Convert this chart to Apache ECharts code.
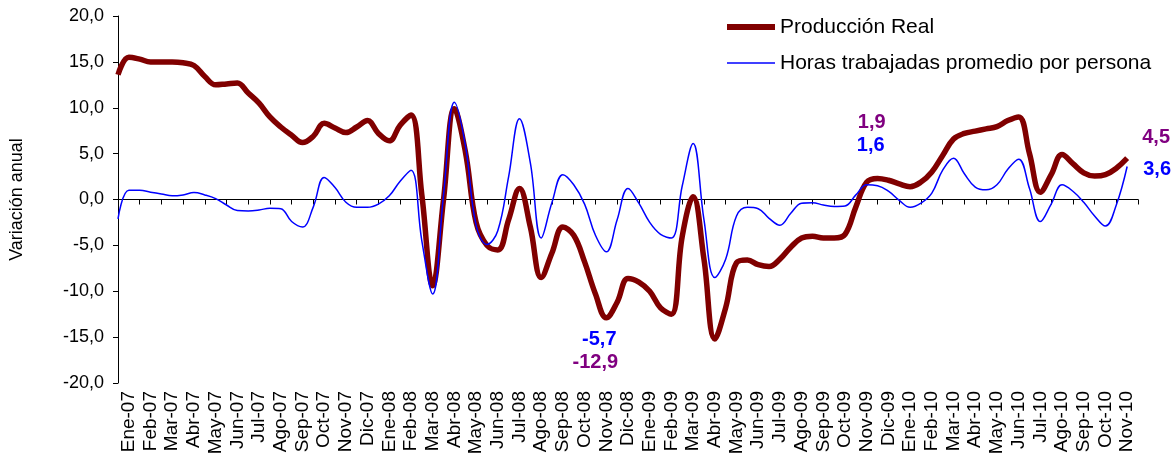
<!DOCTYPE html>
<html><head><meta charset="utf-8">
<script src="https://cdn.jsdelivr.net/npm/echarts@6/dist/echarts.min.js"></script>
<style>html,body{margin:0;padding:0;background:#fff}#c{width:1174px;height:459px}</style>
</head><body><div id="c"></div>
<script>
// Month tick labels (categories)
const months = [
  'Ene-07','Feb-07','Mar-07','Abr-07','May-07','Jun-07','Jul-07','Ago-07','Sep-07','Oct-07','Nov-07','Dic-07',
  'Ene-08','Feb-08','Mar-08','Abr-08','May-08','Jun-08','Jul-08','Ago-08','Sep-08','Oct-08','Nov-08','Dic-08',
  'Ene-09','Feb-09','Mar-09','Abr-09','May-09','Jun-09','Jul-09','Ago-09','Sep-09','Oct-09','Nov-09','Dic-09',
  'Ene-10','Feb-10','Mar-10','Abr-10','May-10','Jun-10','Jul-10','Ago-10','Sep-10','Oct-10','Nov-10'
];
// Series sampled every half month, first sample half a month before Ene-07
const sampleStart = -0.5;
const sampleStep = 0.5;
const produccionReal = [
  13.6, 15.5, 15.3, 15.0, 15.0, 15.0, 14.9, 14.6, 13.4, 12.5,
  12.6, 12.7, 11.6, 10.5, 9.0, 7.9, 7.0, 6.2, 6.9, 8.3,
  7.8, 7.3, 7.9, 8.6, 7.2, 6.4, 8.1, 9.2, 0.5, -9.4,
  0.0, 9.9, 5.3, -2.5, -5.0, -5.5, -2.2, 1.2, -3.0, -8.5,
  -5.8, -3.0, -3.9, -6.8, -10.3, -12.9, -11.2, -8.6, -9.0, -10.0,
  -11.8, -12.5, -4.0, 0.3, -6.5, -15.2, -11.8, -6.9, -6.6, -7.1,
  -7.3, -6.5, -5.2, -4.2, -4.0, -4.2, -4.2, -3.8, -0.8, 1.9,
  2.3, 2.1, 1.7, 1.4, 1.9, 3.0, 4.8, 6.6, 7.2, 7.45,
  7.7, 7.95, 8.6, 9.0, 5.0, 0.8, 2.7, 4.9, 3.9, 2.9,
  2.55, 2.7, 3.4, 4.5
];
const horasTrabajadas = [
  -2.1, 1.0, 1.0, 0.8, 0.6, 0.4, 0.5, 0.75, 0.5, 0.1,
  -0.6, -1.2, -1.25, -1.15, -0.95, -1.0, -2.4, -3.0, -0.8, 2.4,
  1.3, -0.3, -0.85, -0.85, -0.5, 0.4, 2.0, 3.2, -4.5, -10.3,
  0.5, 10.6, 6.0, -2.8, -4.9, -3.4, 2.5, 8.8, 4.0, -4.2,
  -0.3, 2.7, 1.6, -0.5, -3.9, -5.7, -2.2, 1.2, -0.4, -2.5,
  -3.8, -4.2, 1.5, 6.1, -2.2, -8.5, -6.5, -1.8, -0.85, -1.0,
  -2.05, -2.8, -1.5, -0.4, -0.35, -0.6, -0.75, -0.7, 0.5, 1.6,
  1.5, 0.9, -0.1, -0.85, -0.4, 0.7, 3.2, 4.5, 2.8, 1.35,
  1.05, 1.6, 3.3, 4.4, 1.2, -2.4, -0.5, 1.6, 0.9, -0.3,
  -1.8, -2.9, -0.6, 3.6
];
const yMin = -20, yMax = 20, yInterval = 5;
// Annotated months (Nov-08, Nov-09, Nov-10)
const annotMonths = ['Nov-08', 'Nov-09', 'Nov-10'];

// ---- styles ----
const FONT = '"Liberation Sans", Arial, sans-serif';
const prodColor = '#800000', horasColor = '#0000FF', prodLabelColor = '#800080';
const prodWidth = 5.5, horasWidth = 1.5;
const annotOffsetsProd = [[-11, 45], [5, -60], [29, -21]];
const annotOffsetsHoras = [[-7, 88], [4, -39], [30, 3]];

function pairs(arr) { return arr.map((v, i) => [sampleStart + i * sampleStep, v]); }
function fmt(v) { return v.toFixed(1).replace('.', ','); }
function annotData(arr, offsets, color) {
  return annotMonths.map((m, k) => {
    const t = months.indexOf(m);
    const v = arr[Math.round((t - sampleStart) / sampleStep)];
    return {
      value: [t, v],
      label: { show: true, position: 'inside', offset: offsets[k], formatter: fmt(v),
               color: color, fontWeight: 'bold', fontSize: 20, fontFamily: FONT,
               textBorderWidth: 0, textBorderColor: 'transparent', opacity: 1 }
    };
  });
}

const chart = echarts.init(document.getElementById('c'), null, { renderer: 'canvas' });
chart.setOption({
  animation: false,
  backgroundColor: '#ffffff',
  grid: { left: 116, right: 36, top: 16, bottom: 76, containLabel: false },
  legend: {
    data: [
      { name: 'Producción Real', lineStyle: { width: 6, color: prodColor } },
      { name: 'Horas trabajadas promedio por persona', lineStyle: { width: 1.5, color: horasColor } }
    ],
    orient: 'vertical', left: 724, top: 16, padding: 0, itemWidth: 48, itemHeight: 14, itemGap: 14,
    itemStyle: { opacity: 0 },
    textStyle: { fontSize: 21, color: '#000', fontFamily: FONT, lineHeight: 22 }
  },
  xAxis: [
    { type: 'category', data: months, boundaryGap: true, position: 'bottom',
      axisLine: { show: false, onZero: false }, axisTick: { show: false },
      axisLabel: { interval: 0, rotate: 90, fontSize: 19, color: '#000', fontFamily: FONT, margin: 8 },
      splitLine: { show: false } },
    { type: 'category', data: months, boundaryGap: true, position: 'bottom',
      axisLine: { show: true, onZero: true, lineStyle: { color: '#000', width: 1 } },
      axisTick: { show: true, interval: 0, inside: false, length: 5, lineStyle: { color: '#000', width: 1 } },
      axisLabel: { show: true, interval: 0, color: 'rgba(0,0,0,0)', fontSize: 1 }, splitLine: { show: false } },
    { type: 'value', min: sampleStart, max: months.length - 0.5, show: false,
      axisLine: { onZero: false }, splitLine: { show: false } }
  ],
  yAxis: {
    type: 'value', min: yMin, max: yMax, interval: yInterval,
    name: 'Variación anual', nameLocation: 'middle', nameGap: 92, nameRotate: 90,
    nameTextStyle: { fontSize: 18, color: '#000', fontFamily: FONT },
    axisLine: { show: true, onZero: false, lineStyle: { color: '#000', width: 1 } },
    axisTick: { show: true, length: 5, lineStyle: { color: '#000' } },
    axisLabel: { formatter: fmt, fontSize: 18, color: '#000', fontFamily: FONT, margin: 14 },
    splitLine: { show: false }
  },
  series: [
    { name: 'Producción Real', type: 'line', xAxisIndex: 2, data: pairs(produccionReal),
      smooth: 0.4, showSymbol: false, symbol: 'none',
      lineStyle: { color: prodColor, width: prodWidth }, itemStyle: { color: prodColor } },
    { name: 'Horas trabajadas promedio por persona', type: 'line', xAxisIndex: 2, data: pairs(horasTrabajadas),
      smooth: 0.4, showSymbol: false, symbol: 'none',
      lineStyle: { color: horasColor, width: horasWidth }, itemStyle: { color: horasColor } },
    { name: 'annotProd', type: 'scatter', xAxisIndex: 2, symbolSize: 1, itemStyle: { color: 'rgba(0,0,0,0)' },
      silent: true, z: 5, data: annotData(produccionReal, annotOffsetsProd, prodLabelColor) },
    { name: 'annotHoras', type: 'scatter', xAxisIndex: 2, symbolSize: 1, itemStyle: { color: 'rgba(0,0,0,0)' },
      silent: true, z: 5, data: annotData(horasTrabajadas, annotOffsetsHoras, horasColor) }
  ]
});
</script></body></html>
